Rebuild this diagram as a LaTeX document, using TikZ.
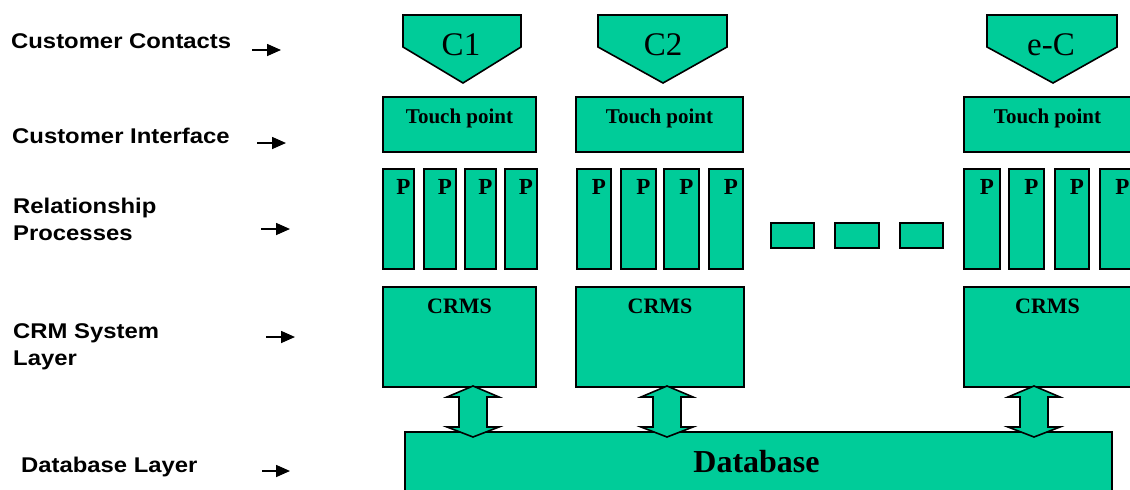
\documentclass[tikz,border=0pt]{standalone}
\usepackage{fontspec}
\setmainfont{Liberation Serif}
\newfontfamily\labfont[FakeStretch=1.12]{Liberation Sans}
\usetikzlibrary{arrows.meta,calc}
\definecolor{crmgreen}{RGB}{0,204,153}
\tikzset{
  box/.style={draw=black, fill=crmgreen, line width=1.6pt, line join=miter},
  rbox/.style={box, inner sep=0pt, outer sep=0pt, anchor=north west},
  lab/.style={font=\labfont\bfseries\fontsize{21.3}{27}\selectfont, inner sep=0pt, align=left, anchor=base west},
  larrow/.style={line width=1.6pt, -{Triangle[length=14pt,width=12pt]}},
  ctext/.style={font=\fontsize{33}{33}\selectfont, inner sep=0pt, anchor=base},
  tptext/.style={font=\bfseries\fontsize{21}{21}\selectfont, inner sep=0pt, anchor=base},
  ptext/.style={font=\bfseries\fontsize{23}{23}\selectfont, inner sep=0pt, anchor=base},
  crtext/.style={font=\bfseries\fontsize{22}{22}\selectfont, inner sep=0pt, anchor=base},
  dbtext/.style={font=\bfseries\fontsize{32}{32}\selectfont, inner sep=0pt, anchor=base},
  dblarrow/.style={box}
}
% box from (x1,y1) to (x2,y2), pixel coordinates
\newcommand\mkbox[5]{\node[rbox, minimum width={#4pt-#2pt}, minimum height={#5pt-#3pt}] (#1) at (#2,#3) {};}
% pentagon: name, left, right, apex x
\newcommand\mkpent[4]{\draw[box] (#2,15) -- (#3,15) -- (#3,47) -- (#4,83) -- (#2,47) -- cycle; \coordinate (#1) at (#4,55);}
% double arrow centred at x, between CRMS box and database
\newcommand\mkdbl[1]{\draw[dblarrow] (#1,386) -- ++(26,11) -- ++(-12,0) -- ++(0,30) -- ++(12,0) -- ++(-26,10) -- ++(-26,-10) -- ++(12,0) -- ++(0,-30) -- ++(-12,0) -- cycle;}
\begin{document}
\begin{tikzpicture}[x=1pt,y=-1pt]
\useasboundingbox (0,0) rectangle (1130,490);
\clip (0,0) rectangle (1130,490);

% ---- left labels ----
\node[lab] (l1) at (11,48) {Customer Contacts};
\node[lab] (l2) at (12,143) {Customer Interface};
\node[lab] (l3) at (13,240) {Relationship\\Processes};
\node[lab] (l4) at (13,365) {CRM System\\Layer};
\node[lab] (l5) at (21,472) {Database Layer};
\coordinate (a1s) at (252,50);  \coordinate (a1e) at (281,50);
\coordinate (a2s) at (257,143); \coordinate (a2e) at (286,143);
\coordinate (a3s) at (261,229); \coordinate (a3e) at (290,229);
\coordinate (a4s) at (266,337); \coordinate (a4e) at (295,337);
\coordinate (a5s) at (262,471); \coordinate (a5e) at (290,471);
\foreach \i in {1,...,5} \draw[larrow] (a\i s) -- (a\i e);

% ---- customer contacts ----
\mkpent{c1}{403}{521}{463}
\mkpent{c2}{598}{727}{663}
\mkpent{c3}{987}{1117}{1053}
\node[ctext] (c1t) at ($(c1)+(-2,0)$) {C1};
\node[ctext] (c2t) at (c2) {C2};
\node[ctext] (c3t) at ($(c3)+(-2,0)$) {e-C};

% ---- touch points ----
\mkbox{tp1}{383}{97}{536}{152}
\mkbox{tp2}{576}{97}{743}{152}
\mkbox{tp3}{964}{97}{1131}{152}
\foreach \n in {tp1,tp2,tp3}
  \node[tptext] (\n t) at ($(\n.north)+(0,26)$) {Touch point};

% ---- processes ----
\mkbox{p11}{383}{169}{414}{269}
\mkbox{p12}{424}{169}{456}{269}
\mkbox{p13}{465}{169}{496}{269}
\mkbox{p14}{505}{169}{537}{269}
\mkbox{p21}{577}{169}{611}{269}
\mkbox{p22}{621}{169}{656}{269}
\mkbox{p23}{664}{169}{699}{269}
\mkbox{p24}{709}{169}{743}{269}
\mkbox{p31}{964}{169}{1000}{269}
\mkbox{p32}{1009}{169}{1044}{269}
\mkbox{p33}{1055}{169}{1089}{269}
\mkbox{p34}{1100}{169}{1135}{269}
\foreach \n in {p11,p12,p13,p14,p21,p22,p23,p24,p31,p32,p33,p34}
  \node[ptext] (\n t) at ($(\n.north)+(5,25)$) {P};

% ---- ellipsis boxes ----
\mkbox{d1}{771}{223}{814}{248}
\mkbox{d2}{835}{223}{879}{248}
\mkbox{d3}{900}{223}{943}{248}

% ---- CRMS ----
\mkbox{cr1}{383}{287}{536}{387}
\mkbox{cr2}{576}{287}{744}{387}
\mkbox{cr3}{964}{287}{1131}{387}
\foreach \n in {cr1,cr2,cr3}
  \node[crtext] (\n t) at ($(\n.north)+(0,26)$) {CRMS};

% ---- database ----
\mkbox{db}{405}{432}{1112}{500}
\node[dbtext] (dbt) at ($(db.north)+(-2,40)$) {Database};

% ---- double arrows CRMS <-> Database ----
\mkdbl{473}
\mkdbl{667}
\mkdbl{1034}
\end{tikzpicture}
\end{document}
